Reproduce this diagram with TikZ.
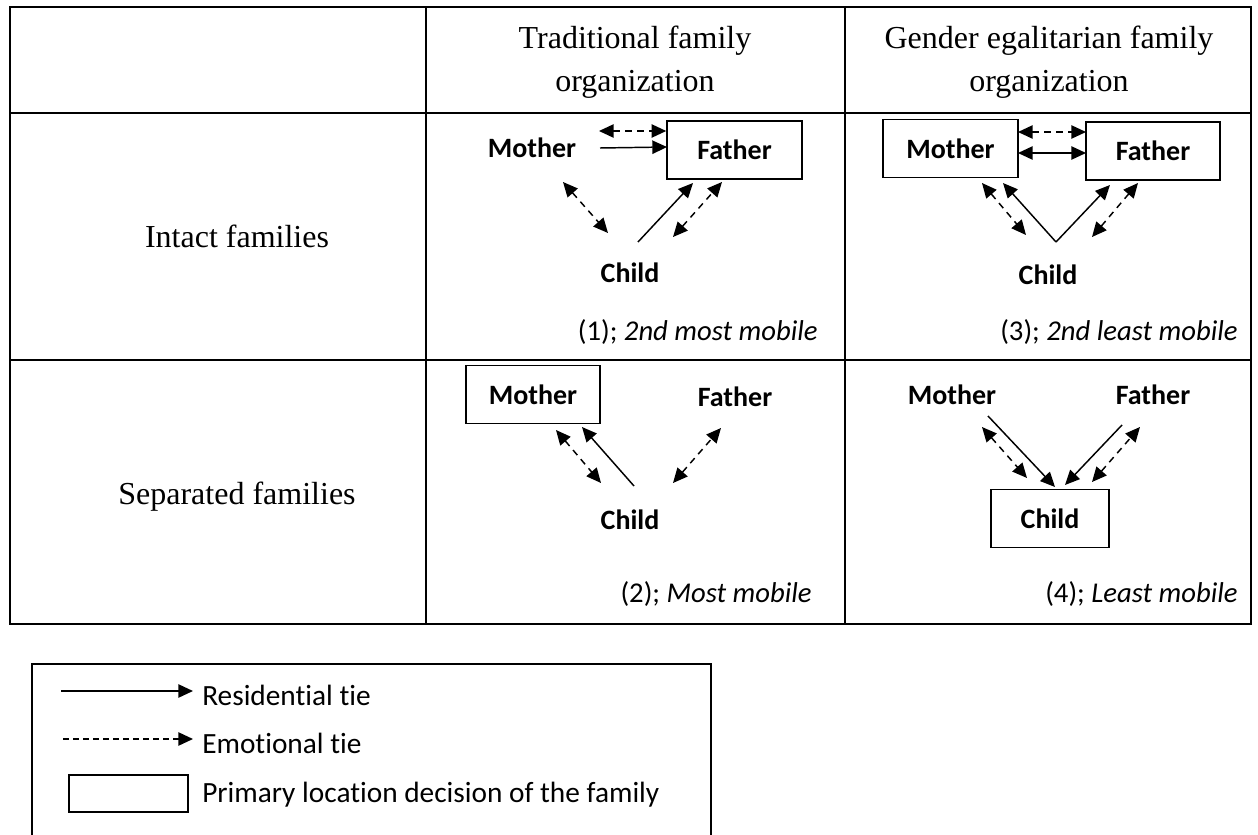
\documentclass[tikz,border=0pt]{standalone}
\usepackage{fontspec}
\setmainfont{Liberation Serif}
\newfontfamily\calibri[Ligatures=NoCommon]{Carlito}
\usetikzlibrary{arrows.meta}
\tikzset{
  tbl/.style={line width=2pt},
  namebox/.style={draw, line width=1.4pt, minimum height=43.5pt, inner sep=0pt, font=\calibri\bfseries\fontsize{21}{25}\selectfont},
  plainlbl/.style={inner sep=0pt, font=\calibri\bfseries\fontsize{21}{25}\selectfont},
  hdr/.style={align=center, font=\fontsize{24}{32}\selectfont},
  rowlab/.style={font=\fontsize{24}{32}\selectfont},
  capt/.style={anchor=east, inner sep=0pt, font=\calibri\fontsize{21.5}{25}\selectfont},
  lgdtext/.style={anchor=west, inner sep=0pt, font=\calibri\fontsize{22}{26}\selectfont},
  res/.style={line width=1.1pt, -{Triangle[length=11pt,width=10pt]}},
  resboth/.style={line width=1.1pt, {Triangle[length=11pt,width=10pt]}-{Triangle[length=11pt,width=10pt]}},
  emo/.style={line width=1.1pt, dash pattern=on 5pt off 4pt, {Triangle[length=11pt,width=10pt]}-{Triangle[length=11pt,width=10pt]}},
  emoone/.style={line width=1.1pt, dash pattern=on 4.5pt off 3pt, -{Triangle[length=11pt,width=10pt]}},
}
\begin{document}
\begin{tikzpicture}[x=0.75pt,y=-0.75pt]
\useasboundingbox (0,0) rectangle (1258,835);

% table
\draw[tbl] (10,7) rectangle (1251,624);
\draw[tbl] (10,113) -- (1251,113);
\draw[tbl] (10,360) -- (1251,360);
\draw[tbl] (426,7) -- (426,624);
\draw[tbl] (845,7) -- (845,624);

% headers
\node[hdr] (h1) at (635,62) {Traditional family\\organization};
\node[hdr] (h2) at (1049,62) {Gender egalitarian family\\organization};
\node[rowlab] (r1) at (237,236) {Intact families};
\node[rowlab] (r2) at (237,497) {Separated families};

% cell (1)
\node[plainlbl] (m1) at (532,148) {Mother};
\node[namebox, minimum width=101pt] (f1) at (734.5,150) {Father};
\node[plainlbl] (c1) at (630,273) {Child};
\coordinate (a1) at (599,131); \coordinate (b1) at (f1.west |- a1);
\coordinate (a2) at (600,148); \coordinate (b2) at (667,147);
\coordinate (a3) at (563,182); \coordinate (b3) at (608,233);
\coordinate (a4) at (638,242); \coordinate (b4) at (693,183);
\coordinate (a5) at (673,237); \coordinate (b5) at (722,182);
\draw[emo] (a1) -- (b1);
\draw[res] (a2) -- (b2);
\draw[emo] (a3) -- (b3);
\draw[res] (a4) -- (b4);
\draw[emo] (a5) -- (b5);
\node[capt] (cap1) at (818,332) {(1); \textit{2nd most mobile}};

% cell (3)
\node[namebox, minimum width=101pt] (m3) at (950.5,148.5) {Mother};
\node[namebox, minimum width=100.5pt] (f3) at (1153,151) {Father};
\node[plainlbl] (c3) at (1048,275) {Child};
\coordinate (p1) at (1018,132); \coordinate (q1) at (1086,132);
\coordinate (p2) at (1018,153); \coordinate (q2) at (1086,153);
\coordinate (p3) at (982,183); \coordinate (q3) at (1026,235);
\coordinate (v3) at (1056,242);
\coordinate (p4) at (1003,183); \coordinate (q4) at (1110,185);
\coordinate (p5) at (1092,237); \coordinate (q5) at (1138,183);
\draw[emo] (p1) -- (q1);
\draw[resboth] (p2) -- (q2);
\draw[emo] (p3) -- (q3);
\draw[res] (v3) -- (p4);
\draw[res] (v3) -- (q4);
\draw[emo] (p5) -- (q5);
\node[capt] (cap3) at (1238,332) {(3); \textit{2nd least mobile}};

% cell (2)
\node[namebox, minimum width=100.5pt] (m2) at (533,394.5) {Mother};
\node[plainlbl] (f2) at (735,397) {Father};
\node[plainlbl] (c2) at (630,520) {Child};
\coordinate (s1) at (556,430); \coordinate (t1) at (601,483);
\coordinate (s2) at (634,486); \coordinate (t2) at (582,427);
\coordinate (s3) at (673,483); \coordinate (t3) at (721,428);
\draw[emo] (s1) -- (t1);
\draw[res] (s2) -- (t2);
\draw[emo] (s3) -- (t3);
\node[capt] (cap2) at (812,594) {(2); \textit{Most mobile}};

% cell (4)
\node[plainlbl] (m4) at (952,395) {Mother};
\node[plainlbl] (f4) at (1153,395) {Father};
\node[namebox, minimum width=88.5pt] (c4) at (1050,518.5) {Child};
\coordinate (u1) at (988,416); \coordinate (w1) at (1055,487);
\coordinate (u2) at (982,427); \coordinate (w2) at (1027,478);
\coordinate (u3) at (1122,425); \coordinate (w3) at (1065,485);
\coordinate (u4) at (1092,482); \coordinate (w4) at (1140,427);
\draw[res] (u1) -- (w1);
\draw[emo] (u2) -- (w2);
\draw[res] (u3) -- (w3);
\draw[emo] (u4) -- (w4);
\node[capt] (cap4) at (1238,594) {(4); \textit{Least mobile}};

% legend
\draw[line width=1.3pt] (32,836) -- (32,664) -- (711,664) -- (711,836);
\coordinate (l1a) at (61,691); \coordinate (l1b) at (193,691);
\draw[res] (l1a) -- (l1b);
\node[lgdtext] (lt1) at (202,695) {Residential tie};
\coordinate (l2a) at (63,739); \coordinate (l2b) at (193,739);
\draw[emoone] (l2a) -- (l2b);
\node[lgdtext] (lt2) at (202,743) {Emotional tie};
\node[draw, line width=1.4pt, minimum width=89pt, minimum height=27.5pt, inner sep=0pt] (lbox) at (128.5,793.5) {};
\node[lgdtext] (lt3) at (202,795) {Primary location decision of the family};
\end{tikzpicture}
\end{document}
